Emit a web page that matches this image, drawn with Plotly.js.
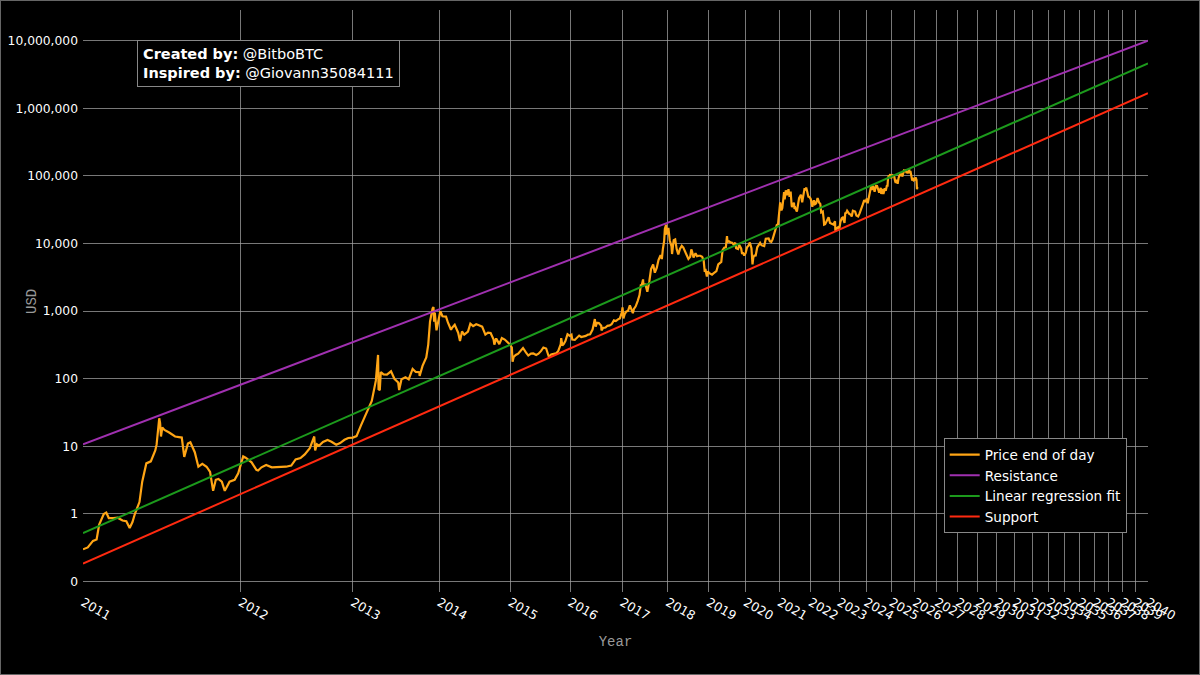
<!DOCTYPE html>
<html>
<head>
<meta charset="utf-8">
<script src="https://cdn.plot.ly/plotly-3.0.1.min.js"></script>
<style>
html,body{margin:0;padding:0;background:#000;}
#wrap{position:relative;width:1200px;height:675px;}
#chart{width:1200px;height:675px;}
#frame{position:absolute;left:0;top:0;width:1198px;height:673px;border:1px solid #666;pointer-events:none;}
</style>
</head>
<body>
<div id="wrap"><div id="chart"></div><div id="frame"></div></div>
<script>
// ---- Data ----
const GENESIS = '2009-01-03';

const priceDates = [
'2011-01-01','2011-01-10','2011-01-20','2011-01-27','2011-02-01','2011-02-10','2011-02-15','2011-02-20','2011-03-01','2011-03-10','2011-03-20','2011-03-28','2011-04-04','2011-04-10','2011-04-15','2011-04-20','2011-04-25','2011-05-01','2011-05-10','2011-05-20','2011-05-30','2011-06-02','2011-06-08','2011-06-10','2011-06-12','2011-06-15','2011-06-20','2011-07-01','2011-07-15','2011-07-31','2011-08-06','2011-08-15','2011-08-21','2011-09-01','2011-09-10','2011-09-20','2011-10-01','2011-10-10','2011-10-18','2011-10-25','2011-11-01','2011-11-10','2011-11-18','2011-12-01','2011-12-15','2011-12-25',
'2012-01-01','2012-01-08','2012-01-15','2012-02-01','2012-02-15','2012-02-20','2012-03-01','2012-03-15','2012-04-01','2012-04-15','2012-05-01','2012-05-15','2012-06-01','2012-06-15','2012-07-01','2012-07-15','2012-08-01','2012-08-16','2012-08-19','2012-08-25','2012-09-01','2012-09-15','2012-10-01','2012-10-15','2012-11-01','2012-11-15','2012-12-01','2012-12-15',
'2013-01-01','2013-01-15','2013-02-01','2013-02-15','2013-03-01','2013-03-15','2013-03-31','2013-04-09','2013-04-11','2013-04-16','2013-04-20','2013-05-01','2013-05-15','2013-06-01','2013-06-15','2013-07-01','2013-07-05','2013-07-15','2013-08-01','2013-08-15','2013-09-01','2013-09-15','2013-10-01','2013-10-02','2013-10-15','2013-11-01','2013-11-10','2013-11-18','2013-11-30','2013-12-04','2013-12-07','2013-12-10','2013-12-18','2013-12-25',
'2014-01-05','2014-01-15','2014-02-01','2014-02-10','2014-02-25','2014-03-01','2014-03-15','2014-04-01','2014-04-10','2014-04-20','2014-05-01','2014-05-20','2014-06-01','2014-06-15','2014-07-01','2014-07-15','2014-08-01','2014-08-18','2014-09-01','2014-09-15','2014-10-01','2014-10-05','2014-10-15','2014-11-01','2014-11-15','2014-12-01','2014-12-15','2014-12-31',
'2015-01-10','2015-01-14','2015-01-20','2015-02-01','2015-02-15','2015-03-01','2015-03-15','2015-04-01','2015-04-15','2015-05-01','2015-05-15','2015-06-01','2015-06-15','2015-07-01','2015-07-15','2015-08-01','2015-08-18','2015-09-01','2015-09-15','2015-10-01','2015-10-15','2015-11-01','2015-11-04','2015-11-11','2015-11-20','2015-12-01','2015-12-15','2015-12-31',
'2016-01-10','2016-01-15','2016-02-01','2016-02-15','2016-03-01','2016-03-15','2016-04-01','2016-04-15','2016-05-01','2016-05-15','2016-06-01','2016-06-17','2016-06-23','2016-07-01','2016-07-15','2016-08-01','2016-08-03','2016-08-15','2016-09-01','2016-09-15','2016-10-01','2016-10-15','2016-11-01','2016-11-15','2016-12-01','2016-12-15','2016-12-31',
'2017-01-04','2017-01-11','2017-01-20','2017-02-01','2017-02-15','2017-03-01','2017-03-10','2017-03-24','2017-04-01','2017-04-15','2017-05-01','2017-05-15','2017-05-25','2017-06-01','2017-06-12','2017-06-15','2017-07-01','2017-07-16','2017-08-01','2017-08-15','2017-09-01','2017-09-15','2017-10-01','2017-10-15','2017-11-01','2017-11-12','2017-11-20','2017-12-01','2017-12-07','2017-12-17','2017-12-22','2017-12-31',
'2018-01-06','2018-01-17','2018-02-01','2018-02-06','2018-02-20','2018-03-05','2018-03-18','2018-04-01','2018-04-15','2018-05-01','2018-05-15','2018-06-01','2018-06-15','2018-06-29','2018-07-15','2018-07-25','2018-08-01','2018-08-14','2018-09-01','2018-09-15','2018-10-01','2018-10-15','2018-11-01','2018-11-15','2018-11-25','2018-12-01','2018-12-15','2018-12-25','2018-12-31',
'2019-01-15','2019-02-01','2019-02-15','2019-03-01','2019-03-15','2019-04-02','2019-04-15','2019-05-01','2019-05-14','2019-05-30','2019-06-15','2019-06-26','2019-07-01','2019-07-15','2019-08-01','2019-08-15','2019-09-01','2019-09-15','2019-09-25','2019-10-15','2019-10-26','2019-11-15','2019-11-25','2019-12-01','2019-12-17','2019-12-31',
'2020-01-15','2020-02-01','2020-02-13','2020-03-01','2020-03-12','2020-03-20','2020-04-01','2020-04-15','2020-05-01','2020-05-15','2020-06-01','2020-06-15','2020-07-01','2020-07-15','2020-08-01','2020-08-15','2020-09-01','2020-09-15','2020-10-01','2020-10-15','2020-11-01','2020-11-15','2020-12-01','2020-12-15','2020-12-31',
'2021-01-08','2021-01-22','2021-02-01','2021-02-15','2021-02-21','2021-02-28','2021-03-13','2021-03-25','2021-04-13','2021-04-25','2021-05-08','2021-05-19','2021-05-23','2021-06-01','2021-06-15','2021-06-22','2021-07-01','2021-07-20','2021-08-01','2021-08-15','2021-09-06','2021-09-21','2021-10-01','2021-10-20','2021-11-01','2021-11-08','2021-11-20','2021-12-04','2021-12-15','2021-12-31',
'2022-01-10','2022-01-22','2022-02-10','2022-02-24','2022-03-10','2022-03-28','2022-04-15','2022-05-01','2022-05-12','2022-06-01','2022-06-13','2022-06-18','2022-07-01','2022-07-15','2022-08-01','2022-08-14','2022-09-01','2022-09-15','2022-10-01','2022-10-15','2022-11-05','2022-11-09','2022-11-21','2022-12-01','2022-12-15','2022-12-31',
'2023-01-15','2023-02-01','2023-02-15','2023-03-10','2023-03-20','2023-04-01','2023-04-14','2023-05-01','2023-05-15','2023-06-01','2023-06-15','2023-07-01','2023-07-15','2023-08-01','2023-08-18','2023-09-11','2023-10-01','2023-10-24','2023-11-15','2023-12-05','2023-12-15','2023-12-31',
'2024-01-11','2024-01-23','2024-02-01','2024-02-15','2024-03-01','2024-03-14','2024-03-20','2024-04-08','2024-04-20','2024-05-01','2024-05-20','2024-06-05','2024-06-25','2024-07-05','2024-07-29','2024-08-05','2024-08-25','2024-09-06','2024-09-27','2024-10-10','2024-10-29','2024-11-05','2024-11-13','2024-11-22','2024-12-05','2024-12-17','2024-12-30',
'2025-01-07','2025-01-20','2025-02-01','2025-02-15','2025-02-28','2025-03-10','2025-03-25','2025-04-08','2025-04-22','2025-05-10','2025-05-22','2025-06-05','2025-06-22','2025-07-14','2025-07-28','2025-08-13','2025-08-25','2025-09-15','2025-09-25','2025-10-06','2025-10-10','2025-10-27','2025-11-04','2025-11-21','2025-12-03','2025-12-15','2025-12-31',
'2026-01-14','2026-01-28','2026-02-05','2026-02-12'
];
const priceValues = [
0.30,0.32,0.40,0.42,0.70,1.00,1.05,0.87,0.87,0.88,0.80,0.78,0.62,0.76,1.00,1.20,1.50,3.0,5.6,6.0,8.7,10.6,26,22,14,19,17.5,16,14,13.5,7,11,11.5,8.2,5.0,5.5,5.0,4.2,2.2,3.2,3.3,3.0,2.2,3.0,3.2,4.0,
5.3,7.1,6.8,5.8,4.5,4.4,4.9,5.3,4.9,4.9,5.0,5.0,5.2,6.4,6.7,7.6,9.4,14,8.7,10.7,10.2,11.6,12.4,11.7,10.6,11.2,12.5,13.3,
13.5,14.2,20.4,27,34.5,47,93,225,70,68,126,116,115,129,100,88,68,98,105,98,140,126,125,110,155,206,320,700,1100,1150,700,950,520,680,
1000,840,830,680,530,560,630,480,360,500,450,500,650,600,640,620,590,450,480,475,380,320,395,325,400,380,350,320,
290,178,210,225,235,260,285,245,220,235,237,225,235,258,290,280,210,228,230,237,255,325,400,310,325,360,455,430,
447,380,375,405,435,415,418,430,450,455,535,765,590,675,665,610,520,567,572,607,615,640,730,713,755,780,965,
1135,780,900,985,1010,1220,1110,935,1080,1180,1420,1730,2400,2400,2950,2450,2480,1930,2750,4200,4900,3700,4400,5700,6750,5900,8200,10900,16400,19000,14000,14150,
17100,11200,9170,7000,11200,11500,8200,6900,8350,9250,8700,7500,6500,5900,6350,8200,7600,6200,7200,6500,6600,6600,6380,5600,3800,4200,3240,3900,3700,
3600,3470,3620,3820,3900,4900,5050,5350,8000,8650,8800,12900,10600,10800,10400,10300,9600,10300,8500,8300,9550,8500,7000,7400,6650,7200,
8800,9400,10350,8550,4900,6200,6640,6650,8800,9400,10200,9450,9230,9170,11800,11900,11900,10800,10600,11500,13700,15990,18800,19400,29000,
40600,30800,33500,48700,57500,45200,61200,51700,63500,49000,58800,37000,34700,36700,40200,32500,33600,29800,39900,47000,52700,40700,48200,66000,61300,67500,59000,49400,48900,46300,
41800,35000,43600,38300,39400,47100,40500,38500,28900,29800,22500,19000,19300,20800,23300,24400,20100,19700,19300,19100,21300,15900,15800,17000,17400,16550,
20900,23700,24300,20200,28000,28400,30500,28100,27300,26800,25100,30600,30300,29700,26000,25100,27900,33900,37900,44000,42200,42300,
46300,39500,43100,51900,62400,73100,62000,71600,64900,58200,71400,71100,61800,56600,66800,54000,64200,53900,65800,60300,72700,69400,90000,99000,98800,106000,92300,
96900,102000,100600,97500,84400,78500,87500,76300,93400,104000,111700,101600,101000,119800,118000,123300,110100,115200,109000,124700,113200,114100,101500,85100,93400,86000,87500,
95000,88000,63500,68500
];

// Power-law channel lines: values read at the left (2011) and right (2040) edges
const lineDates = ['2011-01-01','2040-01-01'];
const resistanceValues = [10.7, 10000000];
const regressionValues = [0.52, 4630000];
const supportValues = [0.184, 1670000];

// Axis ticks
const yearLabels = [];
for (let y = 2011; y <= 2040; y++) yearLabels.push(String(y));
const yTickValues = [0.1,1,10,100,1000,10000,100000,1000000,10000000];
const yTickLabels = ['0','1','10','100','1,000','10,000','100,000','1,000,000','10,000,000'];

// ---- Build ----
const g0 = Date.parse(GENESIS);
const dayNum = d => (Date.parse(d) - g0) / 86400000;
const yearTickVals = yearLabels.map(y => dayNum(y + '-01-01'));

const traces = [
  {x: priceDates.map(dayNum), y: priceValues, type: 'scatter', mode: 'lines',
   name: 'Price end of day', line: {color: '#FFA515', width: 2.2}},
  {x: lineDates.map(dayNum), y: resistanceValues, type: 'scatter', mode: 'lines',
   name: 'Resistance', line: {color: '#A030B0', width: 2}},
  {x: lineDates.map(dayNum), y: regressionValues, type: 'scatter', mode: 'lines',
   name: 'Linear regression fit', line: {color: '#1C9A1C', width: 2}},
  {x: lineDates.map(dayNum), y: supportValues, type: 'scatter', mode: 'lines',
   name: 'Support', line: {color: '#FF2A10', width: 2}}
];

const xr = [Math.log10(dayNum('2011-01-01')), Math.log10(dayNum('2040-01-01'))];
const monoFont = 'Liberation Mono, Courier New, monospace';

const layout = {
  width: 1200, height: 675,
  paper_bgcolor: '#000', plot_bgcolor: '#000',
  margin: {l: 83, r: 52, t: 10, b: 83},
  font: {family: 'DejaVu Sans, Verdana, sans-serif', color: '#fff', size: 12},
  showlegend: true,
  legend: {x: 0.980, y: 0.101, xanchor: 'right', yanchor: 'bottom',
    bgcolor: '#000', bordercolor: '#888', borderwidth: 1,
    font: {size: 13.6, color: '#fff'}},
  xaxis: {
    type: 'log', range: xr,
    tickmode: 'array', tickvals: yearTickVals, ticktext: yearLabels,
    tickangle: 30, tickfont: {size: 12.5, color: '#fff'},
    showgrid: true, gridcolor: 'rgba(160,160,160,0.75)', gridwidth: 1,
    zeroline: false, showline: false, ticks: '',
    title: {text: 'Year', font: {family: monoFont, size: 14, color: '#999'}, standoff: 14}
  },
  yaxis: {
    type: 'log', range: [-1.154, 7.454],
    tickmode: 'array', tickvals: yTickValues, ticktext: yTickLabels,
    tickfont: {size: 12.3, color: '#fff'}, ticklabelstandoff: 4,
    showgrid: true, gridcolor: 'rgba(160,160,160,0.75)', gridwidth: 1,
    zeroline: false, showline: false, ticks: ''
  },
  annotations: [{
    xref: 'paper', yref: 'paper', x: 0.0507, y: 0.948, xanchor: 'left', yanchor: 'top',
    align: 'left', showarrow: false,
    text: '<b>Created by:</b> @BitboBTC<br><b>Inspired by:</b> @Giovann35084111',
    font: {size: 14.5, color: '#fff'},
    bgcolor: '#000', bordercolor: '#888', borderwidth: 1, borderpad: 5
  }, {
    // y-axis title "USD", placed where the reference draws it
    xref: 'paper', yref: 'paper', x: -0.0479, y: 0.5, xanchor: 'center', yanchor: 'middle',
    showarrow: false, textangle: -90, text: 'USD',
    font: {family: monoFont, size: 14, color: '#999'}
  }]
};

Plotly.newPlot('chart', traces, layout, {displayModeBar: false, staticPlot: true});
</script>
</body>
</html>
